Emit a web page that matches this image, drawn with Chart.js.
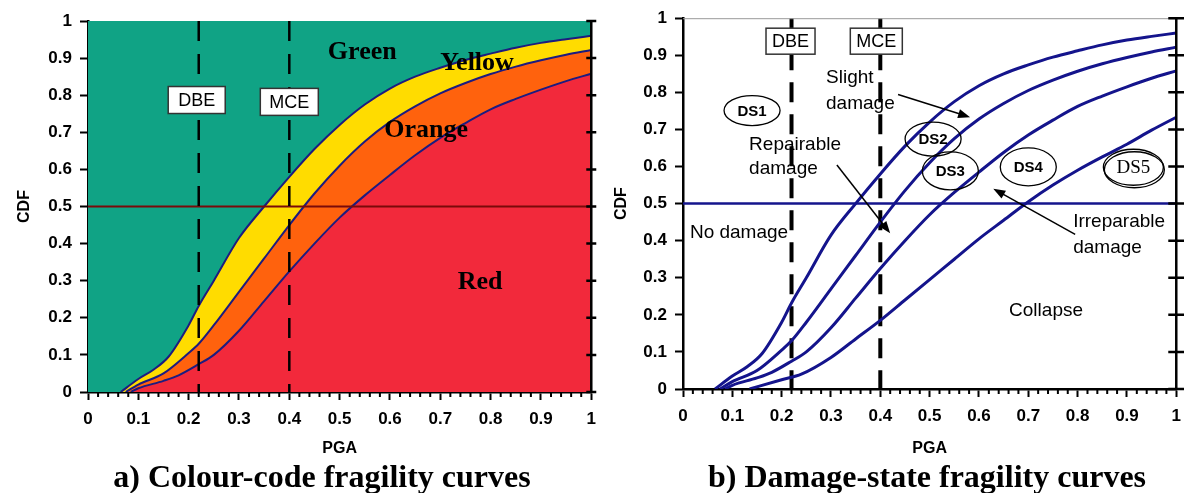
<!DOCTYPE html>
<html>
<head>
<meta charset="utf-8">
<script src="https://cdn.jsdelivr.net/npm/chart.js@4.4.0/dist/chart.umd.min.js"></script>
<style>
  body { margin: 0; background: #fff; width: 1184px; height: 493px; position: relative; overflow: hidden; }
  canvas { position: absolute; top: 0; }
  #chartA { left: 0; }
  #chartB { left: 600px; }
  .cap { position: absolute; top: 458px; line-height: 32px; font: bold 32px "Liberation Serif", "Times New Roman", serif;
         white-space: nowrap; transform: translateX(-50%); color: #000; }
</style>
</head>
<body>
<canvas id="chartA" width="605" height="460"></canvas>
<canvas id="chartB" width="590" height="460"></canvas>
<div class="cap" style="left:322px">a) Colour-code fragility curves</div>
<div class="cap" style="left:927px">b) Damage-state fragility curves</div>
<script>
// ---------------------------------------------------------------------------
// Data (PGA in g, CDF = probability of exceedance)
// ---------------------------------------------------------------------------
const pgaDS1 = [0.065, 0.1, 0.13, 0.16, 0.2, 0.22, 0.25, 0.3, 0.35, 0.4, 0.45, 0.5, 0.55, 0.6, 0.65, 0.7, 0.75, 0.8, 0.85, 0.9, 0.95, 1.0];
const cdfDS1 = [0, 0.035, 0.06, 0.095, 0.18, 0.232, 0.30, 0.415, 0.50, 0.58, 0.655, 0.72, 0.775, 0.818, 0.85, 0.874, 0.895, 0.912, 0.928, 0.941, 0.951, 0.96];

const pgaDS2 = [0.075, 0.1, 0.15, 0.2, 0.22, 0.25, 0.3, 0.35, 0.4, 0.45, 0.5, 0.55, 0.6, 0.65, 0.7, 0.75, 0.8, 0.85, 0.9, 0.95, 1.0];
const cdfDS2 = [0, 0.02, 0.05, 0.105, 0.13, 0.18, 0.27, 0.36, 0.45, 0.535, 0.61, 0.675, 0.728, 0.77, 0.805, 0.833, 0.857, 0.877, 0.894, 0.909, 0.922];

const pgaDS3 = [0.085, 0.1, 0.15, 0.18, 0.22, 0.25, 0.3, 0.35, 0.4, 0.45, 0.5, 0.55, 0.6, 0.65, 0.7, 0.75, 0.8, 0.85, 0.9, 0.95, 1.0];
const cdfDS3 = [0, 0.01, 0.03, 0.045, 0.075, 0.1, 0.165, 0.245, 0.325, 0.40, 0.47, 0.53, 0.585, 0.638, 0.685, 0.725, 0.762, 0.79, 0.815, 0.838, 0.858];

const pgaDS4 = [0.135, 0.2, 0.24, 0.3, 0.35, 0.4, 0.45, 0.5, 0.55, 0.6, 0.65, 0.7, 0.75, 0.8, 0.85, 0.9, 0.95, 1.0];
const cdfDS4 = [0, 0.025, 0.04, 0.085, 0.135, 0.185, 0.24, 0.295, 0.35, 0.405, 0.455, 0.505, 0.55, 0.59, 0.626, 0.66, 0.698, 0.733];

const DBE = 0.22;
const MCE = 0.4;
const THRESHOLD = 0.5;

const SANS = '"Liberation Sans", Arial, sans-serif';
const SERIF = '"Liberation Serif", "Times New Roman", serif';
const NAVY = '#14148c';

const zip = (xs, ys) => xs.map((x, i) => ({ x: x, y: ys[i] }));
const fmtTick = v => String(Math.round(v * 10) / 10);

// ---------------------------------------------------------------------------
// helpers
// ---------------------------------------------------------------------------
function at(chart, x, y) {
    return [chart.scales.x.getPixelForValue(x), chart.scales.y.getPixelForValue(y)];
}

function drawArrow(ctx, x1, y1, x2, y2) {
    const a = Math.atan2(y2 - y1, x2 - x1);
    const c = Math.cos(a), s = Math.sin(a);
    ctx.save();
    ctx.strokeStyle = '#000';
    ctx.fillStyle = '#000';
    ctx.lineWidth = 1.5;
    ctx.beginPath();
    ctx.moveTo(x1, y1);
    ctx.lineTo(x2 - 8 * c, y2 - 8 * s);
    ctx.stroke();
    ctx.beginPath();
    ctx.moveTo(x2, y2);
    ctx.lineTo(x2 - 12 * c + 4.5 * s, y2 - 12 * s - 4.5 * c);
    ctx.lineTo(x2 - 12 * c - 4.5 * s, y2 - 12 * s + 4.5 * c);
    ctx.closePath();
    ctx.fill();
    ctx.restore();
}

function labelBox(ctx, text, cx, cy, font, padX, h) {
    ctx.save();
    ctx.font = font;
    const w = ctx.measureText(text).width + padX * 2;
    ctx.fillStyle = '#fff';
    ctx.fillRect(cx - w / 2, cy - h / 2, w, h);
    ctx.strokeStyle = '#333';
    ctx.lineWidth = 1.5;
    ctx.strokeRect(cx - w / 2, cy - h / 2, w, h);
    ctx.fillStyle = '#000';
    ctx.textAlign = 'center';
    ctx.textBaseline = 'middle';
    ctx.fillText(text, cx, cy + 1);
    ctx.restore();
}

function ellipseLabel(ctx, text, cx, cy, rx, ry, font, shadow) {
    ctx.save();
    ctx.strokeStyle = '#000';
    ctx.lineWidth = 1.3;
    if (shadow) {
        ctx.beginPath();
        ctx.ellipse(cx + 1, cy + 2.5, rx, ry, 0, 0, Math.PI * 2);
        ctx.stroke();
    }
    ctx.beginPath();
    ctx.ellipse(cx, cy, rx, ry, 0, 0, Math.PI * 2);
    ctx.stroke();
    ctx.fillStyle = '#000';
    ctx.font = font;
    ctx.textAlign = 'center';
    ctx.textBaseline = 'middle';
    ctx.fillText(text, cx, cy + 1);
    ctx.restore();
}

// right-hand frame with crossing ticks + minor ticks on the PGA axis
function drawFrame(chart, tickHalf, minorLen) {
    const ctx = chart.ctx;
    const area = chart.chartArea;
    const ys = chart.scales.y, xs = chart.scales.x;
    ctx.save();
    ctx.strokeStyle = '#000';
    ctx.lineWidth = 2.5;
    ctx.beginPath();
    ctx.moveTo(area.right, area.top - 1);
    ctx.lineTo(area.right, area.bottom + 1);
    ys.ticks.forEach(t => {
        const py = ys.getPixelForValue(t.value);
        ctx.moveTo(area.right - tickHalf, py);
        ctx.lineTo(area.right + tickHalf, py);
    });
    ctx.stroke();
    ctx.lineWidth = 2;
    ctx.beginPath();
    for (let i = 1; i < 50; i++) {
        if (i % 5 === 0) continue;
        const px = xs.getPixelForValue(i / 50);
        ctx.moveTo(px, area.bottom);
        ctx.lineTo(px, area.bottom + minorLen);
    }
    ctx.stroke();
    ctx.restore();
}

function makeScales(yWidth, xHeight, yTitlePad, tickFont) {
    return {
        x: {
            type: 'linear', min: 0, max: 1, z: 1,
            ticks: {
                stepSize: 0.1, autoSkip: false, maxRotation: 0, color: '#000', padding: 9,
                font: tickFont, callback: v => fmtTick(v)
            },
            grid: { drawOnChartArea: false, color: '#000', tickLength: 8, tickWidth: 2 },
            border: { color: '#000', width: 2.5 },
            title: { display: true, text: 'PGA', color: '#000', padding: { top: 0, bottom: 0 },
                     font: { family: SANS, size: 16, weight: 'bold' } },
            afterFit: s => { s.height = xHeight; }
        },
        y: {
            type: 'linear', min: 0, max: 1, z: 1,
            ticks: {
                stepSize: 0.1, color: '#000', padding: 8,
                font: tickFont, callback: v => fmtTick(v)
            },
            grid: { drawOnChartArea: false, color: '#000', tickLength: 8, tickWidth: 2 },
            border: { color: '#000', width: 2.5 },
            title: { display: true, text: 'CDF', color: '#000', padding: { top: yTitlePad, bottom: 0 },
                     font: { family: SANS, size: 16, weight: 'bold' } },
            afterFit: s => { s.width = yWidth; }
        }
    };
}

const baseOptions = {
    responsive: false,
    animation: false,
    events: [],
    plugins: { legend: { display: false }, tooltip: { enabled: false } },
    elements: { point: { radius: 0 } }
};

// ---------------------------------------------------------------------------
// a) Colour-code fragility curves
// ---------------------------------------------------------------------------
const zoneColours = {
    green: '#10a385',
    yellow: '#ffdc00',
    orange: '#ff620d',
    red: '#f2293b'
};

const colourPlugin = {
    id: 'colourZones',
    beforeDatasetsDraw(chart) {
        const { ctx, chartArea: a } = chart;
        ctx.save();
        ctx.fillStyle = zoneColours.green;
        ctx.fillRect(a.left, a.top, a.right - a.left, a.bottom - a.top);
        ctx.restore();
    },
    afterDatasetsDraw(chart) {
        const ctx = chart.ctx;
        drawFrame(chart, 5, 5);
        const boxFont = '18px ' + SANS;
        let p = at(chart, DBE, 0.787);
        labelBox(ctx, 'DBE', p[0] - 2, p[1], boxFont, 10, 27);
        p = at(chart, MCE, 0.782);
        labelBox(ctx, 'MCE', p[0], p[1], boxFont, 9, 27);

        ctx.save();
        ctx.fillStyle = '#000';
        ctx.font = 'bold 26px ' + SERIF;
        ctx.textAlign = 'center';
        ctx.textBaseline = 'middle';
        [['Green', 0.545, 0.916], ['Yellow', 0.773, 0.887], ['Orange', 0.672, 0.706], ['Red', 0.779, 0.296]]
            .forEach(([t, x, y]) => { const q = at(chart, x, y); ctx.fillText(t, q[0], q[1]); });
        ctx.restore();
    }
};

const curveLine = { borderColor: '#1c1c80', borderWidth: 2, cubicInterpolationMode: 'monotone', pointRadius: 0 };

new Chart(document.getElementById('chartA'), {
    type: 'line',
    data: {
        datasets: [
            Object.assign({ label: 'Yellow limit', data: zip(pgaDS1, cdfDS1), fill: 'origin', backgroundColor: zoneColours.yellow, order: 6 }, curveLine),
            Object.assign({ label: 'Orange limit', data: zip(pgaDS2, cdfDS2), fill: 'origin', backgroundColor: zoneColours.orange, order: 5 }, curveLine),
            Object.assign({ label: 'Red limit', data: zip(pgaDS3, cdfDS3), fill: 'origin', backgroundColor: zoneColours.red, order: 4 }, curveLine),
            { label: '50%', data: [{ x: 0, y: THRESHOLD }, { x: 1, y: THRESHOLD }], borderColor: '#7a0a0a', borderWidth: 2, fill: false, order: 3 },
            { label: 'DBE', data: [{ x: DBE, y: 1 }, { x: DBE, y: 0 }], borderColor: '#000', borderWidth: 2.5, borderDash: [20, 13], fill: false, order: 2 },
            { label: 'MCE', data: [{ x: MCE, y: 1 }, { x: MCE, y: 0 }], borderColor: '#000', borderWidth: 2.5, borderDash: [20, 13], fill: false, order: 1 }
        ]
    },
    options: Object.assign({}, baseOptions, {
        layout: { padding: { top: 21, right: 0, bottom: 2, left: 0 } },
        scales: makeScales(88, 66, 14.5, { family: SANS, size: 17, weight: 'bold' })
    }),
    plugins: [colourPlugin]
});

// ---------------------------------------------------------------------------
// b) Damage-state fragility curves
// ---------------------------------------------------------------------------
const damagePlugin = {
    id: 'damageNotes',
    afterDatasetsDraw(chart) {
        const ctx = chart.ctx;
        const a = chart.chartArea;
        // thin top border
        ctx.save();
        ctx.strokeStyle = '#999';
        ctx.lineWidth = 1;
        ctx.beginPath();
        ctx.moveTo(a.left, a.top + 0.5);
        ctx.lineTo(a.right, a.top + 0.5);
        ctx.stroke();
        ctx.restore();
        drawFrame(chart, 8, 5);

        const boxFont = '18px ' + SANS;
        let p = at(chart, DBE, 0.938);
        labelBox(ctx, 'DBE', p[0] - 1, p[1], boxFont, 6, 26);
        p = at(chart, MCE, 0.938);
        labelBox(ctx, 'MCE', p[0] - 4, p[1], boxFont, 6, 26);

        const dsFont = 'bold 15px ' + SANS;
        [['DS1', 0.140, 0.751, 28, 15], ['DS2', 0.507, 0.674, 28, 17], ['DS3', 0.542, 0.588, 28, 19],
         ['DS4', 0.700, 0.599, 28, 19]].forEach(([t, x, y, rx, ry]) => {
            const q = at(chart, x, y);
            ellipseLabel(ctx, t, q[0], q[1], rx, ry, dsFont, false);
        });
        p = at(chart, 0.913, 0.598);
        ellipseLabel(ctx, 'DS5', p[0], p[1], 30, 18, '19px ' + SERIF, true);

        ctx.save();
        ctx.fillStyle = '#000';
        ctx.font = '19px ' + SANS;
        ctx.textAlign = 'left';
        ctx.textBaseline = 'middle';
        [['Slight', 0.290, 0.840], ['damage', 0.290, 0.770],
         ['Repairable', 0.134, 0.660], ['damage', 0.134, 0.594],
         ['No damage', 0.014, 0.422],
         ['Irreparable', 0.791, 0.452], ['damage', 0.791, 0.382]]
            .forEach(([t, x, y]) => { const q = at(chart, x, y); ctx.fillText(t, q[0], q[1]); });
        ctx.textAlign = 'center';
        p = at(chart, 0.736, 0.211);
        ctx.fillText('Collapse', p[0], p[1]);
        ctx.restore();

        [[0.436, 0.794, 0.582, 0.733], [0.312, 0.604, 0.420, 0.420], [0.795, 0.417, 0.629, 0.540]]
            .forEach(([x1, y1, x2, y2]) => {
                const s = at(chart, x1, y1), e = at(chart, x2, y2);
                drawArrow(ctx, s[0], s[1], e[0], e[1]);
            });
    }
};

const dsLine = { borderColor: NAVY, borderWidth: 3, cubicInterpolationMode: 'monotone', pointRadius: 0, fill: false };

new Chart(document.getElementById('chartB'), {
    type: 'line',
    data: {
        datasets: [
            Object.assign({ label: 'DS1', data: zip(pgaDS1, cdfDS1) }, dsLine),
            Object.assign({ label: 'DS2', data: zip(pgaDS2, cdfDS2) }, dsLine),
            Object.assign({ label: 'DS3', data: zip(pgaDS3, cdfDS3) }, dsLine),
            Object.assign({ label: 'DS4', data: zip(pgaDS4, cdfDS4) }, dsLine),
            { label: '50%', data: [{ x: 0, y: THRESHOLD }, { x: 1, y: THRESHOLD }], borderColor: NAVY, borderWidth: 2.5, fill: false },
            { label: 'DBE', data: [{ x: DBE, y: 1 }, { x: DBE, y: 0 }], borderColor: '#000', borderWidth: 4, borderDash: [20, 12], fill: false },
            { label: 'MCE', data: [{ x: MCE, y: 1 }, { x: MCE, y: 0 }], borderColor: '#000', borderWidth: 4, borderDash: [20, 12], fill: false }
        ]
    },
    options: Object.assign({}, baseOptions, {
        layout: { padding: { top: 15, right: 0, bottom: 2, left: 0 } },
        scales: makeScales(83, 69, 11.5, { family: SANS, size: 17, weight: 'bold' })
    }),
    plugins: [damagePlugin]
});
</script>
</body>
</html>
